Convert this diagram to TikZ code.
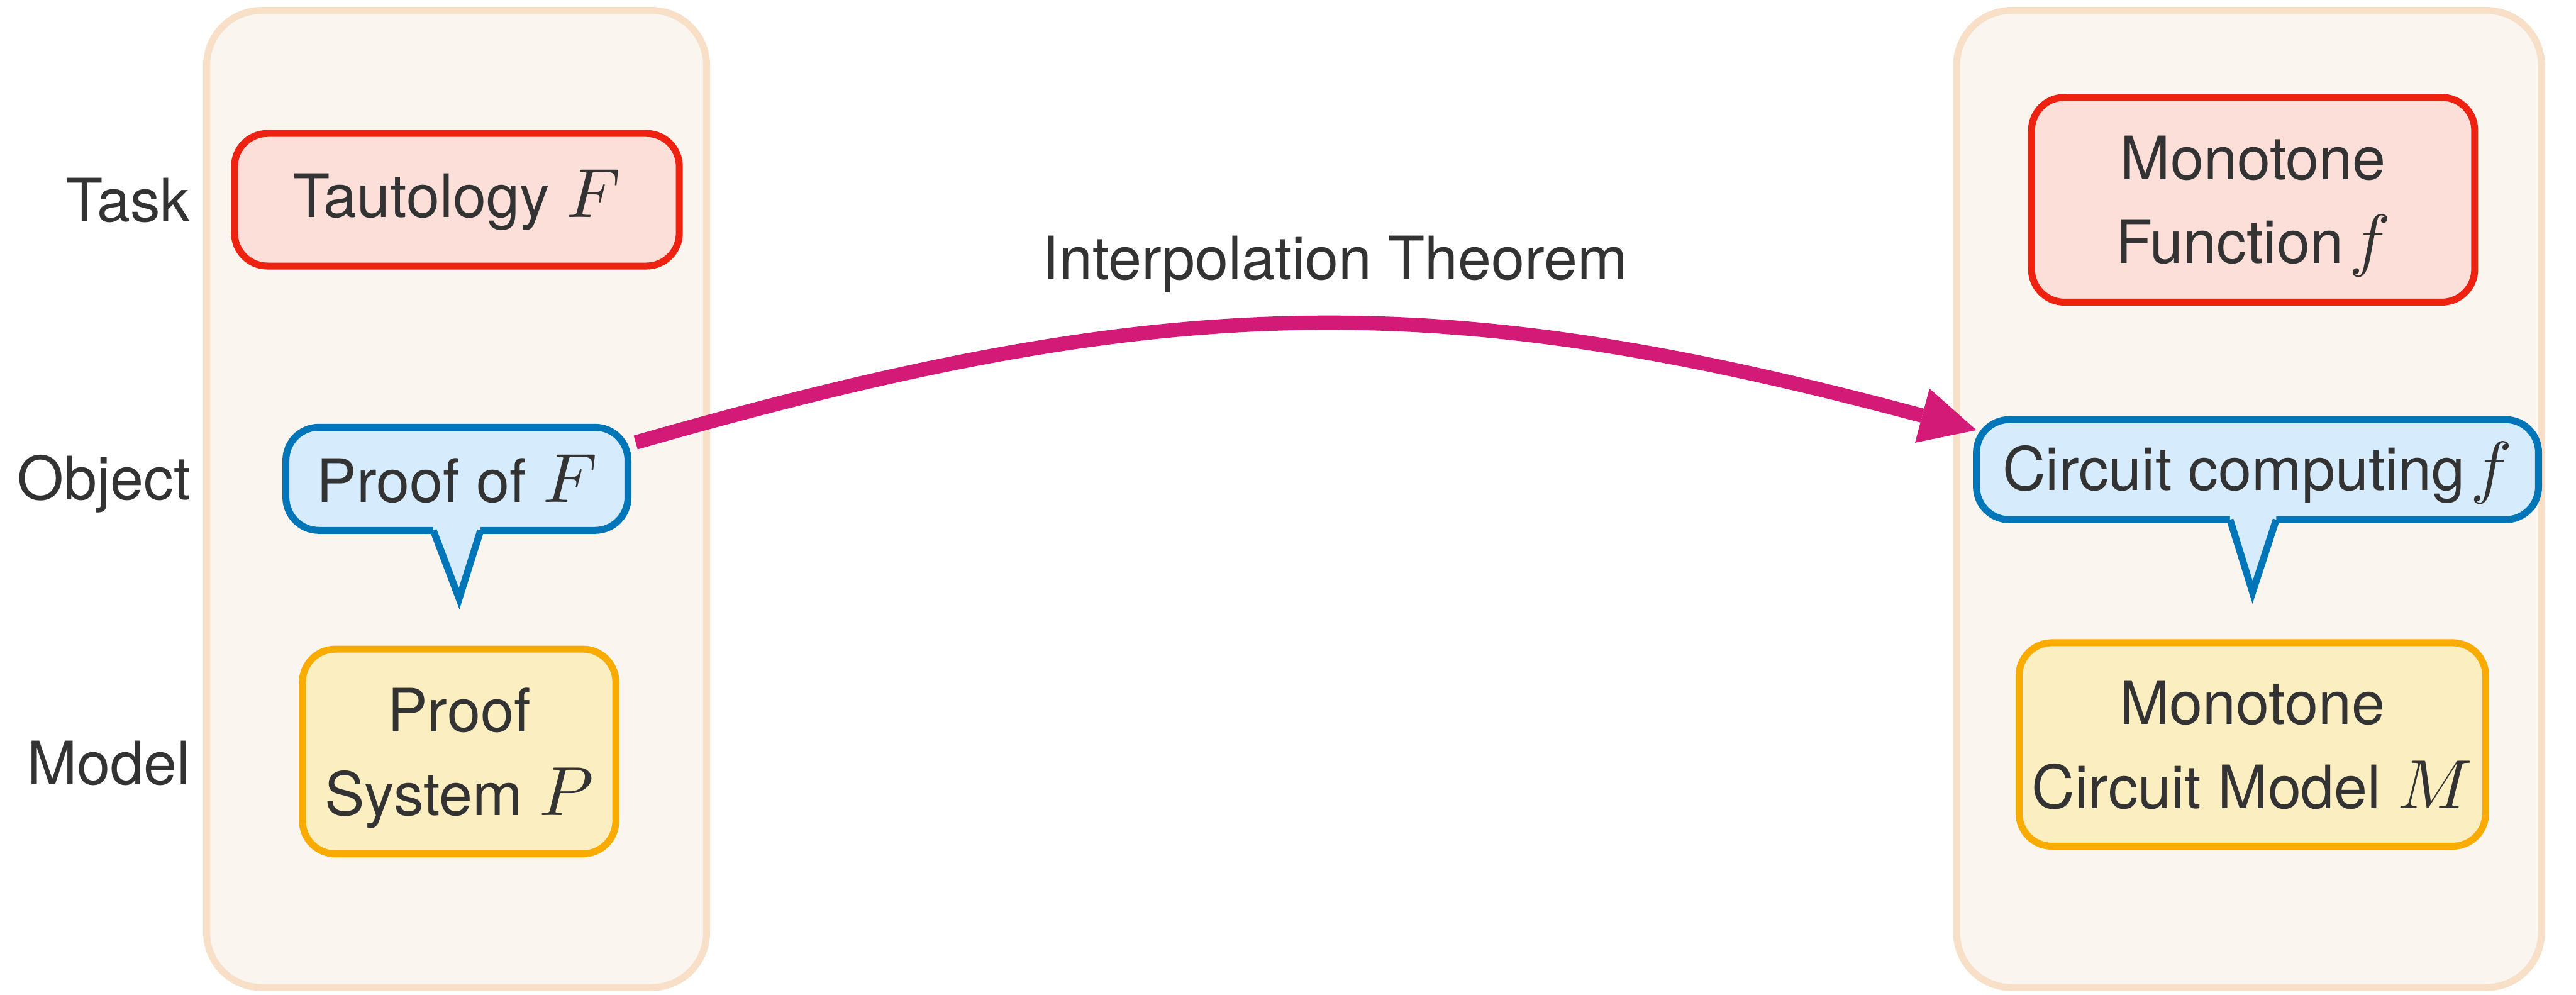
\documentclass[tikz,border=0pt]{standalone}
\usepackage{fontspec}
\setmainfont{TeX Gyre Heros}
\usepackage{graphicx}
\usepackage{xcolor}
\usepackage{amsmath}
\usepackage{tikz}
\usetikzlibrary{positioning,arrows.meta}

\definecolor{panelline}{HTML}{F8E0C8}
\definecolor{panelfill}{HTML}{FAF5EE}
\definecolor{taskline}{HTML}{EE2211}
\definecolor{taskfill}{HTML}{FBDFD8}
\definecolor{objline}{HTML}{0075B8}
\definecolor{objfill}{HTML}{D6EBFC}
\definecolor{modelline}{HTML}{FAAB00}
\definecolor{modelfill}{HTML}{FBEEC0}
\definecolor{arrowpink}{HTML}{D31A77}
\definecolor{textgray}{HTML}{333333}

% math letters are set a bit larger (and heavier) than the text
\newcommand{\bigvar}[1]{\scalebox{1.8}{\fontsize{10}{12}\selectfont$#1$}}

\begin{document}
\begin{tikzpicture}[
  txt/.style={text=textgray, font=\fontsize{15.5}{21.7}\selectfont},
  column/.style={draw=panelline, fill=panelfill, line width=1.8pt, rounded corners=0.5cm, minimum height=8.886cm, outer sep=0pt},
  rowlabel/.style={txt, inner sep=0pt, anchor=base east},
  taskbox/.style={txt, draw=taskline, fill=taskfill, line width=1.8pt, rounded corners=0.3cm, align=center, outer sep=0pt},
  objbox/.style={txt, draw=objline, fill=objfill, line width=1.8pt, rounded corners=0.3cm, align=center, outer sep=0pt},
  modelbox/.style={txt, draw=modelline, fill=modelfill, line width=1.8pt, rounded corners=0.3cm, align=center, outer sep=0pt},
  pointer/.style={draw=objline, line width=1.8pt, line join=miter},
]
\useasboundingbox (0,0) rectangle (23.43,-9.045);

% Columns
\node[column, minimum width=4.547cm] (lcol) at (4.153,-4.538) {};
\node[column, minimum width=5.320cm] (rcol) at (20.456,-4.538) {};

% Row labels
\node[rowlabel] (ltask) at (1.738,-2.019) {Task};
\node[rowlabel] (lobj) at (1.738,-4.545) {Object};
\node[rowlabel] (lmodel) at (1.738,-7.135) {Model};

% Left column: proofs
\node[taskbox, minimum width=4.046cm, minimum height=1.206cm] (taut) at (4.156,-1.817) {Tautology \bigvar{F}};
\node[objbox, minimum width=3.111cm, minimum height=0.938cm, below=1.466cm of taut] (pf) {Proof of \bigvar{F}};
\node[modelbox, minimum width=2.850cm, minimum height=1.862cm, text depth=0pt, below=1.080cm of pf, xshift=0.02cm] (ps) {Proof\\System \bigvar{P}};

% Right column: circuits
\node[taskbox, minimum width=4.031cm, minimum height=1.863cm, text depth=0pt] (mf) at (20.493,-1.817) {Monotone\\Function\hspace{1.5pt}\bigvar{f}};
\node[objbox, minimum width=5.113cm, minimum height=0.910cm, text depth=0.06cm, below=1.068cm of mf, xshift=0.04cm] (cc) {Circuit computing\hspace{1.5pt}\bigvar{f}};
\node[modelbox, minimum width=4.170cm, minimum height=1.851cm, text depth=0pt, below=1.119cm of cc, xshift=-0.047cm] (mc) {Monotone\\Circuit Model \bigvar{M}};

% Callout pointers
\coordinate (pftip) at ([xshift=0.02cm, yshift=-0.62cm]pf.south);
\fill[objfill] ([xshift=-0.215cm, yshift=0.05cm]pf.south) -- ([xshift=-0.215cm]pf.south) -- (pftip)
  -- ([xshift=0.215cm]pf.south) -- ([xshift=0.215cm, yshift=0.05cm]pf.south) -- cycle;
\draw[pointer] ([xshift=-0.215cm]pf.south) -- (pftip) -- ([xshift=0.215cm]pf.south);

\coordinate (cctip) at ([xshift=-0.045cm, yshift=-0.66cm]cc.south);
\fill[objfill] ([xshift=-0.25cm, yshift=0.05cm]cc.south) -- ([xshift=-0.25cm]cc.south) -- (cctip)
  -- ([xshift=0.17cm]cc.south) -- ([xshift=0.17cm, yshift=0.05cm]cc.south) -- cycle;
\draw[pointer] ([xshift=-0.25cm]cc.south) -- (cctip) -- ([xshift=0.17cm]cc.south);

% Interpolation arrow
\node[txt, anchor=base] (thm) at (12.142,-2.542) {Interpolation Theorem};
\draw[arrowpink, line width=3.7pt, -{Triangle[length=0.51cm, width=0.51cm, line width=0pt]}]
  ([xshift=2pt]pf.12) to[out=16, in=165, looseness=1.06] (cc.172);

\end{tikzpicture}
\end{document}
